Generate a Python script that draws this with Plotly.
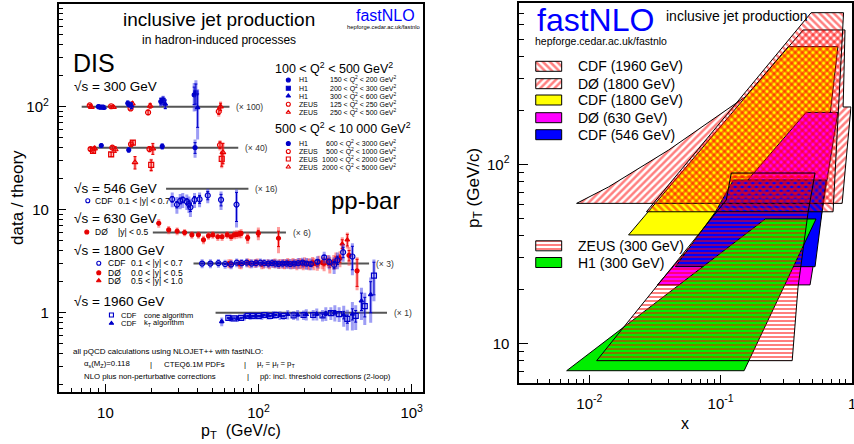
import numpy as np
import plotly.graph_objects as go

W, H = 854, 444
FONT = "Liberation Sans, Arial, sans-serif"
BLUE = "#0000c8"
BLUE_L = "rgba(60,60,235,0.5)"
RED = "#e60000"
RED_L = "rgba(255,60,60,0.5)"
GREY = "#555555"

# ======================= LEFT PANEL DATA (data / theory) =======================
grp_scale = [100, 40, 16, 6, 3, 1]
grp_lo = [7.0, 7.9, 24.9, 20.4, 37.6, 52.4]
grp_hi = [64.6, 73.7, 85.9, 151, 527, 690]
grp_tag = ["(× 100)", "(× 40)", "(× 16)", "(× 6)", "(× 3)", "(× 1)"]

# DIS sqrt(s)=300 GeV, 100<Q2<500 (x100)
h1a_pt = [9.0, 14.0, 23.0, 38.0]
h1a_r = [1.00, 1.08, 1.12, 1.30]
h1a_st = [0.03, 0.05, 0.08, 0.25]
h1a_sy = [0.06, 0.08, 0.12, 0.40]
h1b_pt = [9.4, 14.4, 23.8, 39.0]
h1b_r = [0.99, 1.05, 1.15, 1.36]
h1b_st = [0.03, 0.05, 0.09, 0.30]
h1b_sy = [0.05, 0.08, 0.13, 0.45]
h1c_pt = [9.8, 14.8, 24.6, 40.0]
h1c_r = [0.98, 1.02, 1.06, 0.98]
h1c_st = [0.04, 0.06, 0.10, 0.35]
h1c_sy = [0.05, 0.08, 0.12, 0.50]
zea_pt = [7.9, 10.9, 14.6, 19.0, 55.0]
zea_r = [1.03, 1.01, 0.96, 0.88, 0.90]
zea_st = [0.02, 0.02, 0.03, 0.04, 0.06]
zea_sy = [0.04, 0.04, 0.05, 0.06, 0.10]
zeb_pt = [8.1, 11.3, 15.0, 19.6, 56.5]
zeb_r = [0.99, 0.99, 1.07, 1.02, 1.00]
zeb_st = [0.02, 0.03, 0.04, 0.05, 0.08]
zeb_sy = [0.04, 0.04, 0.05, 0.07, 0.12]

# DIS 500<Q2<10000 (x40)
h1d_pt = [9.4, 14.2, 23.5, 38.5]
h1d_r = [1.05, 0.95, 1.03, 1.00]
h1d_st = [0.03, 0.04, 0.05, 0.12]
h1d_sy = [0.06, 0.06, 0.08, 0.20]
zec_pt = [8.0, 11.1, 14.7, 19.4, 56.0]
zec_r = [0.97, 1.00, 1.08, 0.97, 1.06]
zec_st = [0.03, 0.03, 0.04, 0.05, 0.08]
zec_sy = [0.04, 0.05, 0.06, 0.07, 0.12]
zed_pt = [8.3, 10.9, 15.1, 19.9, 57.5]
zed_r = [0.93, 0.86, 1.12, 0.68, 0.78]
zed_st = [0.03, 0.04, 0.05, 0.08, 0.12]
zed_sy = [0.04, 0.05, 0.07, 0.10, 0.15]
zee_pt = [8.5, 11.6, 15.6, 20.4, 58.5]
zee_r = [0.98, 0.96, 0.72, 0.98, 0.90]
zee_st = [0.05, 0.06, 0.10, 0.12, 0.20]
zee_sy = [0.06, 0.07, 0.10, 0.12, 0.22]

# CDF 546 GeV (x16)
c546_pt = [27.3, 29.3, 30.8, 32.0, 34.0, 35.1, 35.9, 38.2, 41.2, 46.6, 56.9, 71.8]
c546_r = [0.79, 0.70, 0.76, 0.78, 0.75, 0.71, 0.66, 0.78, 0.79, 0.86, 0.78, 0.70]
c546_st = [0.05, 0.05, 0.05, 0.05, 0.05, 0.05, 0.06, 0.06, 0.07, 0.08, 0.10, 0.22]
c546_sy = [0.13, 0.13, 0.13, 0.13, 0.13, 0.13, 0.13, 0.13, 0.13, 0.14, 0.16, 0.28]

# D0 630 GeV (x6)
d630_pt = [22.3, 25.9, 29.4, 32.9, 36.7, 40.5, 43.7, 47.1, 50.3, 54.2,
           57.8, 62.4, 66.2, 69.5, 72.0, 75.0, 76.9, 84.9, 99.7, 135]
d630_r = [1.23, 1.06, 1.03, 1.00, 0.95, 0.95, 0.85, 0.93, 0.95, 0.91,
          0.91, 0.95, 0.91, 0.95, 0.96, 0.97, 0.98, 0.89, 0.98, 0.88]
d630_st = [0.02, 0.02, 0.02, 0.02, 0.02, 0.02, 0.02, 0.02, 0.02, 0.02,
           0.03, 0.03, 0.03, 0.03, 0.04, 0.04, 0.04, 0.05, 0.07, 0.15]
d630_sy = [0.12, 0.10, 0.09, 0.08, 0.08, 0.08, 0.08, 0.08, 0.08, 0.08,
           0.08, 0.08, 0.08, 0.09, 0.09, 0.09, 0.10, 0.11, 0.14, 0.25]

# sqrt(s)=1800 GeV (x3)
c1800_pt = [42.8, 48.5, 54.7, 60.5, 66.2, 72.0, 77.6, 83.6, 90.2, 96.3, 102.8,
            109, 115.9, 122.4, 128.6, 135.2, 143.5, 152.4, 161.1, 171, 181.6,
            193.6, 205.6, 219.6, 242.5, 268.3, 289.2, 311.6, 327.5, 356.6, 410]
c1800_r = [1.00, 1.00, 1.01, 0.99, 0.98, 1.02, 1.01, 1.02, 1.00, 1.01, 1.02,
           1.01, 1.00, 1.01, 1.00, 0.99, 1.00, 1.00, 0.99, 1.00, 1.01,
           1.02, 1.00, 0.99, 1.04, 1.15, 1.04, 0.97, 1.08, 1.29, 1.17]
c1800_st = [0.01, 0.01, 0.01, 0.01, 0.01, 0.01, 0.01, 0.01, 0.01, 0.01, 0.01,
            0.01, 0.01, 0.01, 0.01, 0.02, 0.02, 0.02, 0.02, 0.02, 0.02,
            0.03, 0.03, 0.03, 0.04, 0.05, 0.06, 0.08, 0.10, 0.15, 0.30]
c1800_sy = [0.10, 0.10, 0.10, 0.10, 0.10, 0.10, 0.10, 0.10, 0.10, 0.10, 0.10,
            0.10, 0.10, 0.10, 0.10, 0.10, 0.10, 0.11, 0.11, 0.11, 0.12,
            0.12, 0.13, 0.13, 0.14, 0.15, 0.16, 0.18, 0.20, 0.25, 0.40]
d1800c_pt = [64, 75, 85, 95, 105, 115, 125, 135, 145, 155, 165, 175, 185,
             196, 210, 225, 242, 262, 285, 310, 340, 390, 440]
d1800c_r = [1.00, 0.99, 1.02, 1.01, 0.98, 1.00, 1.01, 0.99, 1.00, 1.02, 0.99,
            1.00, 1.01, 0.98, 1.00, 1.03, 0.98, 1.02, 1.06, 1.04, 1.12, 1.20, 0.85]
d1800c_st = [0.01, 0.01, 0.01, 0.01, 0.01, 0.01, 0.01, 0.01, 0.02, 0.02, 0.02,
             0.02, 0.02, 0.02, 0.03, 0.03, 0.03, 0.04, 0.05, 0.06, 0.09, 0.14, 0.25]
d1800c_sy = [0.10, 0.10, 0.10, 0.10, 0.10, 0.10, 0.10, 0.10, 0.11, 0.11, 0.11,
             0.11, 0.12, 0.12, 0.12, 0.13, 0.13, 0.14, 0.15, 0.17, 0.20, 0.25, 0.30]
d1800f_pt = [66, 77, 88, 98, 108, 118, 128, 138, 148, 158, 168, 178, 189,
             200, 214, 230, 248, 268, 292, 320, 352, 380]
d1800f_r = [1.00, 0.98, 1.00, 1.02, 0.99, 0.98, 1.01, 1.00, 0.99, 1.00, 1.01,
            0.98, 1.00, 1.02, 0.99, 1.00, 1.04, 1.00, 0.98, 1.08, 1.55, 1.70]
d1800f_st = [0.01, 0.01, 0.01, 0.01, 0.01, 0.01, 0.02, 0.02, 0.02, 0.02, 0.02,
             0.02, 0.03, 0.03, 0.03, 0.04, 0.04, 0.05, 0.06, 0.08, 0.15, 0.22]
d1800f_sy = [0.10, 0.10, 0.10, 0.10, 0.10, 0.10, 0.11, 0.11, 0.11, 0.11, 0.12,
             0.12, 0.12, 0.13, 0.13, 0.14, 0.15, 0.16, 0.18, 0.20, 0.25, 0.30]

# CDF 1960 GeV (x1)
cone_pt = [63.5, 69.5, 76.9, 84.9, 91.6, 100.2, 109, 119, 130, 145.8,
           169.4, 196.8, 227.6, 261.6, 296.6, 336, 380, 431, 494, 567]
cone_r = [0.89, 0.88, 0.89, 0.93, 0.93, 0.93, 0.95, 0.93, 0.95, 0.93,
          0.94, 0.95, 0.95, 0.94, 0.99, 0.97, 0.87, 0.93, 1.16, 2.29]
cone_st = [0.01, 0.01, 0.01, 0.01, 0.01, 0.01, 0.01, 0.01, 0.01, 0.01,
           0.01, 0.02, 0.02, 0.03, 0.04, 0.05, 0.08, 0.12, 0.25, 0.80]
cone_sy = [0.06, 0.06, 0.06, 0.06, 0.07, 0.07, 0.07, 0.07, 0.08, 0.08,
           0.09, 0.10, 0.11, 0.12, 0.14, 0.16, 0.20, 0.25, 0.40, 1.00]
kt_pt = [57.5, 66, 73, 81, 88, 96, 105, 115, 125, 138, 155, 180, 205, 240,
         275, 315, 360, 410, 470, 540]
kt_r = [0.82, 0.88, 0.88, 0.91, 0.92, 0.93, 0.93, 0.94, 0.95, 0.94, 0.96,
        0.95, 0.96, 0.97, 0.98, 1.00, 0.95, 0.97, 1.30, 1.50]
kt_st = [0.02, 0.01, 0.01, 0.01, 0.01, 0.01, 0.01, 0.01, 0.01, 0.01, 0.02,
         0.02, 0.02, 0.03, 0.04, 0.05, 0.08, 0.12, 0.25, 0.50]
kt_sy = [0.08, 0.07, 0.07, 0.07, 0.07, 0.07, 0.08, 0.08, 0.08, 0.09, 0.10,
         0.11, 0.12, 0.13, 0.15, 0.18, 0.22, 0.30, 0.45, 0.70]

# ======================= RIGHT PANEL DATA (x - pT coverage) =======================
cdf1800_x = [0.0199, 0.327, 0.783, 0.534]
cdf1800_pt = [40.3, 454, 454, 40.3]
d0630_x = [0.0330, 0.448, 0.783, 0.480]
d0630_pt = [21.2, 195, 195, 21.2]
cdf546_x = [0.0453, 0.0912, 0.125, 0.636, 0.524]
cdf546_pt = [26.8, 54.1, 81.7, 81.7, 26.8]
h1_x = [0.00672, 0.219, 0.533, 0.151]
h1_pt = [7.03, 49.5, 49.5, 7.03]
d01800_x = [0.0080, 0.0140, 0.0401, 0.154, 0.425, 0.886, 0.871, 0.857, 0.984, 0.843]
d01800_pt = [60.5, 74.7, 120, 238, 563, 563, 328, 209, 209, 60.5]
cdf1960_x = [0.0272, 0.489, 0.864, 0.719]
cdf1960_pt = [54.3, 703, 703, 54.3]
zeus_x = [0.01137, 0.0960, 0.1105, 0.1206, 0.524, 0.464, 0.389, 0.351]
zeus_pt = [8.0, 55.6, 63.2, 89.4, 89.4, 54.1, 20.6, 8.0]

# ======================= LAYOUT GEOMETRY (pixels) =======================
L_X0, L_X1, L_Y0, L_Y1 = 59, 424, 4, 392
L_XR, L_YR = [0.696, 3.074], [-0.77, 2.997]
R_X0, R_X1, R_Y0, R_Y1 = 520.7, 853.5, 3, 382.7
R_XR, R_YR = [-2.532, -0.003], [0.780, 2.901]


def px2data(px, py, X0, X1, Y0, Y1, XR, YR):
    xl = XR[0] + (px - X0) / (X1 - X0) * (XR[1] - XR[0])
    yl = YR[1] - (py - Y0) / (Y1 - Y0) * (YR[1] - YR[0])
    return 10 ** xl, 10 ** yl


def lpos(px, py):
    return px2data(px, py, L_X0, L_X1, L_Y0, L_Y1, L_XR, L_YR)


def rpos(px, py):
    return px2data(px, py, R_X0, R_X1, R_Y0, R_Y1, R_XR, R_YR)


fig = go.Figure()
annotations = []


def ann(text, px, py, size, color="black", xanchor="left", yanchor="middle", angle=0):
    annotations.append(dict(text=text, x=px / W, y=1 - py / H, xref="paper", yref="paper",
                            showarrow=False, xanchor=xanchor, yanchor=yanchor, textangle=angle,
                            font=dict(family=FONT, size=size, color=color)))


# ---- theory lines ----
for sc, lo, hi, tag in zip(grp_scale, grp_lo, grp_hi, grp_tag):
    fig.add_trace(go.Scatter(x=[lo, hi], y=[sc, sc], mode="lines", line=dict(color=GREY, width=2),
                             xaxis="x", yaxis="y", showlegend=False, hoverinfo="skip"))
    annotations.append(dict(text=tag, x=np.log10(hi), y=np.log10(sc), xref="x", yref="y",
                            showarrow=False, xanchor="left", yanchor="middle", xshift=5,
                            font=dict(family=FONT, size=8.5, color="#333333")))


def add_pts(pt, r, st, sy, scale, symbol, color, light, size=5):
    y = [v * scale for v in r]
    fig.add_trace(go.Scatter(x=pt, y=y, mode="markers", marker=dict(size=1, color="rgba(0,0,0,0)"),
                             error_y=dict(type="data", array=[e * scale for e in sy], color=light,
                                          thickness=3, width=0),
                             xaxis="x", yaxis="y", showlegend=False, hoverinfo="skip"))
    fig.add_trace(go.Scatter(x=pt, y=y, mode="markers",
                             marker=dict(size=size, symbol=symbol, color=color,
                                         line=dict(color=color, width=1.2)),
                             error_y=dict(type="data", array=[e * scale for e in st], color=color,
                                          thickness=1, width=1.5),
                             xaxis="x", yaxis="y", showlegend=False))


add_pts(zea_pt, zea_r, zea_st, zea_sy, 100, "circle-open", RED, RED_L)
add_pts(zeb_pt, zeb_r, zeb_st, zeb_sy, 100, "triangle-up-open", RED, RED_L)
add_pts(h1a_pt, h1a_r, h1a_st, h1a_sy, 100, "circle", BLUE, BLUE_L, 4)
add_pts(h1b_pt, h1b_r, h1b_st, h1b_sy, 100, "square", BLUE, BLUE_L, 4)
add_pts(h1c_pt, h1c_r, h1c_st, h1c_sy, 100, "triangle-up", BLUE, BLUE_L, 4)
add_pts(zec_pt, zec_r, zec_st, zec_sy, 40, "circle-open", RED, RED_L)
add_pts(zed_pt, zed_r, zed_st, zed_sy, 40, "square-open", RED, RED_L)
add_pts(zee_pt, zee_r, zee_st, zee_sy, 40, "triangle-up-open", RED, RED_L)
add_pts(h1d_pt, h1d_r, h1d_st, h1d_sy, 40, "circle", BLUE, BLUE_L, 4)
add_pts(c546_pt, c546_r, c546_st, c546_sy, 16, "circle-open", BLUE, BLUE_L)
add_pts(d630_pt, d630_r, d630_st, d630_sy, 6, "circle", RED, RED_L, 4)
add_pts(d1800c_pt, d1800c_r, d1800c_st, d1800c_sy, 3, "circle", RED, RED_L, 4)
add_pts(d1800f_pt, d1800f_r, d1800f_st, d1800f_sy, 3, "triangle-up", RED, RED_L, 4)
add_pts(c1800_pt, c1800_r, c1800_st, c1800_sy, 3, "circle-open", BLUE, BLUE_L)
add_pts(kt_pt, kt_r, kt_st, kt_sy, 1, "triangle-up", BLUE, BLUE_L, 4)
add_pts(cone_pt, cone_r, cone_st, cone_sy, 1, "square-open", BLUE, BLUE_L)

# ---- left legend keys (placed in layout pixels) ----
keys = [
    (289, 80, "circle", BLUE), (289, 88.3, "square", BLUE), (289, 96, "triangle-up", BLUE),
    (289, 104.3, "circle-open", RED), (289, 112.3, "triangle-up-open", RED),
    (289, 143.5, "circle", BLUE), (289, 151.5, "circle-open", RED),
    (289, 159, "square-open", RED), (289, 167, "triangle-up-open", RED),
    (88, 200.7, "circle-open", BLUE), (87, 232, "circle", RED),
    (99, 263.3, "circle-open", BLUE), (99, 272.7, "circle", RED), (99, 280.7, "triangle-up", RED),
    (111.7, 315, "square-open", BLUE), (111.7, 323.3, "triangle-up", BLUE),
]
for kx, ky, sym, col in keys:
    xx, yy = lpos(kx, ky)
    fig.add_trace(go.Scatter(x=[xx], y=[yy], mode="markers",
                             marker=dict(size=4, symbol=sym, color=col, line=dict(color=col, width=1.1)),
                             xaxis="x", yaxis="y", showlegend=False, hoverinfo="skip"))

# ======================= RIGHT PANEL POLYGONS =======================
def poly(xs, ys, fill=None, pattern=None):
    kw = dict(x=list(xs) + [xs[0]], y=list(ys) + [ys[0]], mode="lines", fill="toself",
              line=dict(color="black", width=1), xaxis="x2", yaxis="y2",
              showlegend=False, hoverinfo="skip")
    if pattern is None:
        kw["fillcolor"] = fill
    else:
        kw["fillcolor"] = "rgba(0,0,0,0)"
        kw["fillpattern"] = dict(shape=pattern, fgcolor="#ff0000", bgcolor="rgba(0,0,0,0)",
                                 size=5 if pattern != "-" else 4,
                                 solidity=0.5 if pattern != "-" else 0.5)
    fig.add_trace(go.Scatter(**kw))


poly(cdf1800_x, cdf1800_pt, fill="#ffff00")
poly(d0630_x, d0630_pt, fill="#ff00ff")
poly(cdf546_x, cdf546_pt, fill="#0000ff")
poly(h1_x, h1_pt, fill="#00ee00")
poly(d01800_x, d01800_pt, pattern="/")
poly(cdf1960_x, cdf1960_pt, pattern="\\")
poly(zeus_x, zeus_pt, pattern="-")

# right legend swatches (layout pixels)
sw = [(66.3, None, "\\", "CDF (1960 GeV)"), (83.7, None, "/", "DØ (1800 GeV)"),
      (100, "#ffff00", None, "CDF (1800 GeV)"), (117.7, "#ff00ff", None, "DØ (630 GeV)"),
      (134.7, "#0000ff", None, "CDF (546 GeV)"), (245.8, None, "-", "ZEUS (300 GeV)"),
      (262.5, "#00ee00", None, "H1 (300 GeV)")]
for cy, col, pat, label in sw:
    corners = [rpos(537, cy - 5), rpos(563, cy - 5), rpos(563, cy + 5), rpos(537, cy + 5)]
    poly([c[0] for c in corners], [c[1] for c in corners], fill=col, pattern=pat)
    ann(label, 577, cy, 14)

# ======================= TEXT =======================
ann("inclusive jet production", 220, 20, 19, xanchor="center")
ann("in hadron-induced processes", 220, 40, 12, xanchor="center")
ann("fastNLO", 386, 16, 16, color="#0000ff", xanchor="center")
ann("hepforge.cedar.ac.uk/fastnlo", 384, 27, 5.8, xanchor="center")
ann("DIS", 71, 63, 25)
ann("√s = 300 GeV", 72, 86, 13.5)
ann("100 &lt; Q<sup>2</sup> &lt; 500 GeV<sup>2</sup>", 274, 68, 12.5)
rows1 = [(80, "H1", "150 &lt; Q<sup>2</sup> &lt; 200 GeV<sup>2</sup>"),
         (88.3, "H1", "200 &lt; Q<sup>2</sup> &lt; 300 GeV<sup>2</sup>"),
         (96, "H1", "300 &lt; Q<sup>2</sup> &lt; 600 GeV<sup>2</sup>"),
         (104.3, "ZEUS", "125 &lt; Q<sup>2</sup> &lt; 250 GeV<sup>2</sup>"),
         (112.3, "ZEUS", "250 &lt; Q<sup>2</sup> &lt; 500 GeV<sup>2</sup>")]
ann("500 &lt; Q<sup>2</sup> &lt; 10 000 GeV<sup>2</sup>", 274, 128, 12.5)
rows2 = [(143.5, "H1", "600 &lt; Q<sup>2</sup> &lt; 3000 GeV<sup>2</sup>"),
         (151.5, "ZEUS", "500 &lt; Q<sup>2</sup> &lt; 1000 GeV<sup>2</sup>"),
         (159, "ZEUS", "1000 &lt; Q<sup>2</sup> &lt; 2000 GeV<sup>2</sup>"),
         (167, "ZEUS", "2000 &lt; Q<sup>2</sup> &lt; 5000 GeV<sup>2</sup>")]
for cy, lab, rng in rows1 + rows2:
    ann(lab, 298, cy, 7)
    ann(rng, 399, cy, 7, xanchor="right")

ann("√s = 546 GeV", 72, 188, 13.5)
ann("CDF", 93, 200.7, 8.5)
ann("0.1 &lt; |y| &lt; 0.7", 116, 200.7, 8.5)
ann("pp-bar", 330, 200, 24)
ann("√s = 630 GeV", 72, 219, 13.5)
ann("DØ", 93, 232, 8.5)
ann("|y| &lt; 0.5", 116, 232, 8.5)
ann("√s = 1800 GeV", 72, 250, 13.5)
for cy, lab, rng in [(263.3, "CDF", "0.1 &lt; |y| &lt; 0.7"), (272.7, "DØ", "0.0 &lt; |y| &lt; 0.5"),
                     (280.7, "DØ", "0.5 &lt; |y| &lt; 1.0")]:
    ann(lab, 106, cy, 8.5)
    ann(rng, 129, cy, 8.5)
ann("√s = 1960 GeV", 72, 301.7, 13.5)
ann("CDF", 119, 315, 7.5)
ann("cone algorithm", 142, 315, 7.5)
ann("CDF", 119, 323.3, 7.5)
ann("k<sub>T</sub> algorithm", 142, 323.3, 7.5)

ann("all pQCD calculations using NLOJET++ with fastNLO:", 71.5, 351.7, 8)
ann("α<sub>s</sub>(M<sub>Z</sub>)=0.118", 82, 364, 7.8)
ann("|", 148, 364, 7.8)
ann("CTEQ6.1M PDFs", 162, 364, 7.8)
ann("|", 243, 364, 7.8)
ann("μ<sub>r</sub> = μ<sub>f</sub> = p<sub>T</sub>", 256, 364, 7.8)
ann("NLO plus non-perturbative corrections", 82, 376.7, 7.8)
ann("|", 246, 376.7, 7.8)
ann("pp\u0304: incl. threshold corrections (2-loop)", 259, 376.7, 7.8)

ann("p<sub>T</sub>  (GeV/c)", 241.7, 431, 16, xanchor="center")
ann("data / theory", 17, 197, 17, xanchor="center", angle=-90)

# right panel text
ann("fastNLO", 536, 20, 32, color="#0000ff")
ann("inclusive jet production", 666, 16, 14)
ann("hepforge.cedar.ac.uk/fastnlo", 534, 41, 10.5)
ann("p<sub>T</sub> (GeV/c)", 476, 188, 17, xanchor="center", angle=-90)
ann("x", 686.7, 423, 16, xanchor="center")
ann("1", 853.5, 403, 15, xanchor="center")

# ======================= AXES =======================
def dom(a0, a1, total):
    return [a0 / total, a1 / total]


common = dict(type="log", showline=True, linecolor="black", linewidth=2, mirror=True,
              ticks="inside", tickcolor="black", tickwidth=1, showgrid=False, zeroline=False,
              tickfont=dict(family=FONT, size=15, color="black"))

lx_minor = [6, 7, 8, 9] + [v * 10 for v in range(2, 10)] + [v * 100 for v in range(2, 10)]
ly_minor = [v / 10 for v in range(2, 10)] + list(range(2, 10)) + [v * 10 for v in range(2, 10)] + \
           [v * 100 for v in range(2, 10)]
rx_minor = [v / 1000 for v in range(4, 10)] + [v / 100 for v in range(2, 10)] + [v / 10 for v in range(2, 10)]
ry_minor = [7, 8, 9] + [v * 10 for v in range(2, 10)] + [v * 100 for v in range(2, 8)]

fig.update_layout(
    width=W, height=H, margin=dict(l=0, r=0, t=0, b=0),
    paper_bgcolor="white", plot_bgcolor="white", showlegend=False,
    xaxis=dict(common, domain=dom(L_X0, L_X1, W), range=L_XR, anchor="y",
               tickvals=[10, 100, 1000], ticktext=["10", "10<sup>2</sup>", "10<sup>3</sup>"],
               ticklen=8, ticklabelstandoff=6,
               minor=dict(tickvals=lx_minor, ticks="inside", ticklen=4, tickcolor="black", tickwidth=1)),
    yaxis=dict(common, domain=[1 - L_Y1 / H, 1 - L_Y0 / H], range=L_YR, anchor="x",
               tickvals=[1, 10, 100], ticktext=["1", "10", "10<sup>2</sup>"],
               ticklen=7, ticklabelstandoff=5,
               minor=dict(tickvals=ly_minor, ticks="inside", ticklen=4, tickcolor="black", tickwidth=1)),
    xaxis2=dict(common, domain=dom(R_X0, R_X1, W), range=R_XR, anchor="y2",
                tickvals=[0.01, 0.1], ticktext=["10<sup>-2</sup>", "10<sup>-1</sup>"],
                ticklen=8, ticklabelstandoff=6,
                minor=dict(tickvals=rx_minor, ticks="inside", ticklen=4, tickcolor="black", tickwidth=1)),
    yaxis2=dict(common, domain=[1 - R_Y1 / H, 1 - R_Y0 / H], range=R_YR, anchor="x2",
                tickvals=[10, 100], ticktext=["10", "10<sup>2</sup>"],
                ticklen=9, ticklabelstandoff=5,
                minor=dict(tickvals=ry_minor, ticks="inside", ticklen=5, tickcolor="black", tickwidth=1)),
    annotations=annotations,
)

fig.write_html("out.html", config={"displayModeBar": False},
               post_script="document.body.style.margin='0px';document.body.style.overflow='hidden';")
